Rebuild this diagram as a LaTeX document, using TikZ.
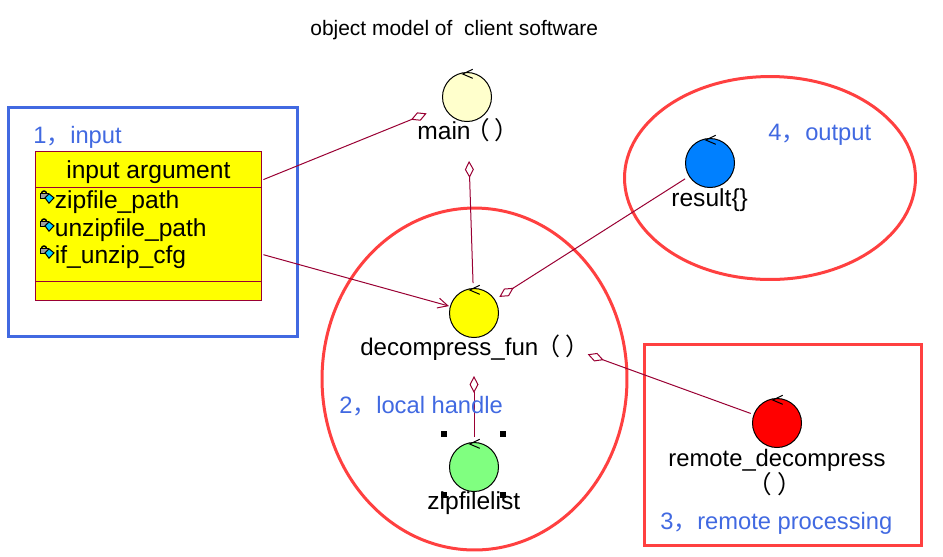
\documentclass[tikz,border=0pt]{standalone}
\usepackage{fontspec}
\setmainfont{Liberation Sans}
\newfontfamily\cjk{Noto Sans CJK SC}
\usetikzlibrary{arrows.meta,shapes.geometric}
\definecolor{linkred}{HTML}{990033}
\definecolor{framered}{HTML}{FF4040}
\definecolor{frameblue}{HTML}{4169E1}
\definecolor{resultblue}{HTML}{0080FF}
\definecolor{mainyellow}{HTML}{FFFFCC}
\definecolor{listgreen}{HTML}{80FF80}
\definecolor{fullyellow}{HTML}{FFFF00}
\definecolor{iconcyan}{HTML}{00CCFF}
\definecolor{icongray}{HTML}{A0A0A0}
\newcommand{\emptyparens}{{\cjk（\hspace{3pt}）}}
\tikzset{
 region/.style={draw=#1,line width=0.06cm,inner sep=0pt},
 objcircle/.style={circle,draw=black,line width=0.02cm,minimum size=0.98cm,inner sep=0pt,fill=#1},
 objtext/.style={anchor=base west,inner sep=0pt,font=\fontsize{14}{16}\selectfont},
 steptext/.style={anchor=base west,inner sep=0pt,text=frameblue,font=\fontsize{13.5}{16}\selectfont},
 aggrline/.style={draw=linkred,line width=0.02cm,-{Diamond[open,length=0.34cm,width=0.18cm]}},
 refline/.style={draw=linkred,line width=0.02cm,-{Straight Barb[length=0.2cm,width=0.2cm]}},
 handlebox/.style={fill=black,minimum size=0.12cm,inner sep=0pt}
}
\begin{document}
\begin{tikzpicture}[x=0.02cm,y=-0.02cm]
\useasboundingbox (0,0) rectangle (943,556);
% title:
 \node[objtext,font=\fontsize{11.93}{14}\selectfont] (title) at (310,35) {object model of \ client software};
% regions:
 \node[region=frameblue,minimum width=5.8cm,minimum height=4.6cm] (inputregion) at (153,222) {};
 \node[region=framered,ellipse,minimum width=6.1cm,minimum height=6.84cm] (localregion) at (474.5,379) {};
 \node[region=framered,ellipse,minimum width=5.82cm,minimum height=4.06cm] (outputregion) at (770,178) {};
 \node[region=framered,minimum width=5.54cm,minimum height=4.02cm] (remoteregion) at (783,445) {};
% class:
 \node[draw=linkred,fill=fullyellow,line width=0.02cm,minimum width=4.54cm,minimum height=3cm,inner sep=0pt] (argclass) at (148.5,226) {};
 \draw[draw=linkred,line width=0.02cm] (35,187) -- (262,187);
 \draw[draw=linkred,line width=0.02cm] (35,281) -- (262,281);
 \node[objtext] (argtitle) at (66,178.5) {input argument};
 \foreach \attr/\txt/\ybase in {zipattr/zipfile\_path/208.5,unzipattr/unzipfile\_path/236.5,cfgattr/if\_unzip\_cfg/263.5}{
  \node[objtext] (\attr) at (54.5,\ybase) {\txt};
  \begin{scope}[shift={(0,\ybase)}]
   \draw[black,line width=0.03cm] (41.5,-15) arc (180:360:2.5);
   \draw[black,fill=icongray,line width=0.02cm] (40,-15) rectangle (48,-10);
   \draw[black,fill=iconcyan,line width=0.02cm] (45,-10.7) -- (49,-14.7) -- (54,-10.7) -- (49,-5.3) -- cycle;
  \end{scope}
 }
% handles:
 \foreach \hx/\hy [count=\i] in {444/434,503/434,444/495,503/495}{
  \node[handlebox] (handle\i) at (\hx,\hy) {};
 }
% objects:
 \node[objcircle=mainyellow] (mainobj) at (467,97) {};
 \node[objcircle=fullyellow] (decompress) at (474,313) {};
 \node[objcircle=listgreen] (filelist) at (474,467) {};
 \node[objcircle=red] (remote) at (777,423) {};
 \node[objcircle=resultblue] (result) at (710,163) {};
 \foreach \obj in {mainobj,decompress,filelist,remote,result}{
  \draw[black,line width=0.02cm] ([shift={(5.7,-27.7)}]\obj.center) -- ([shift={(-4.3,-23)}]\obj.center) -- ([shift={(5.7,-18.7)}]\obj.center);
 }
% links:
 \draw[aggrline,shorten <=0.02cm,shorten >=0.37cm] (argclass.22) -- (mainobj);
 \draw[aggrline,shorten <=0.1cm,shorten >=0.78cm] (decompress) -- (mainobj);
 \draw[aggrline,shorten <=0.09cm,shorten >=0.1cm] (result) -- (decompress);
 \draw[aggrline,shorten <=0.06cm,shorten >=1.92cm] (remote) -- (decompress);
 \draw[aggrline,shorten <=0.1cm,shorten >=0.76cm] (filelist) -- (decompress);
 \draw[refline,shorten <=0.02cm,shorten >=0.02cm] (argclass.-14) -- (decompress);
% object names:
 \node[objtext] (mainlbl) at (417,139) {main\hspace{-3.2pt}\emptyparens};
 \node[objtext,font=\fontsize{13.7}{16}\selectfont] (decompresslbl) at (360,355.5) {decompress\_fun\hspace{-1pt}\emptyparens};
 \node[objtext] (filelistlbl) at (427,509) {zipfilelist};
 \node[objtext,font=\fontsize{13.56}{16}\selectfont] (remotelbl) at (668,466.5) {remote\_decompress};
 \node[objtext] (remoteparen) at (747,493) {\emptyparens};
 \node[objtext] (resultlbl) at (671,206.5) {result\{\}};
% step labels:
 \node[steptext] (inputstep) at (33,143) {1{\cjk，}input};
 \node[steptext] (localstep) at (339,413) {2{\cjk，}local handle};
 \node[steptext] (remotestep) at (660,529) {3{\cjk，}remote processing};
 \node[steptext] (outputstep) at (768,140) {4{\cjk，}output};
\end{tikzpicture}
\end{document}
